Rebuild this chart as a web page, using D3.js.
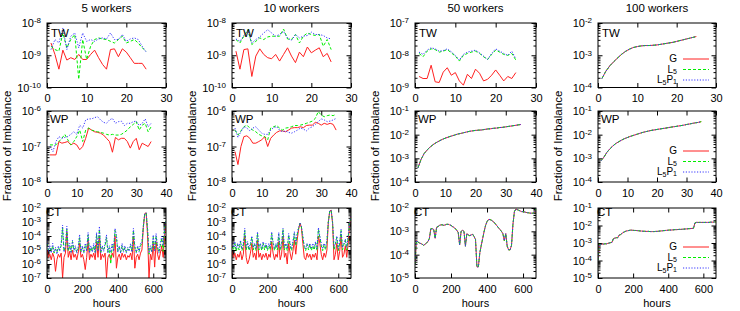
<!DOCTYPE html>
<html><head><meta charset="utf-8">
<script src="https://cdn.jsdelivr.net/npm/d3@7"></script>
<style>
body{margin:0;background:#fff;}
svg{display:block;}
</style></head><body>
<svg id="chart" width="740" height="311"></svg>
<script>
// ---------- categories / labels ----------
const workerTitles = ["5 workers","10 workers","50 workers","100 workers"];
const rowLabels = ["TW","WP","CT"];
const seriesNames = ["G","L5","L5P1"];
const twTicks = [0,10,20,30];
const wpTicks = [0,10,20,30,40];
const ctTicks = [0,200,400,600];
const twDays = d3.range(1,26);
const wpDays = d3.range(1,36);
const ctHours = d3.range(0,673,8);

// ---------- TW ----------
const tw5G    = [2.4e-9,1.06e-9,3.7e-10,1.44e-9,7.1e-10,8.4e-10,7.4e-10,1.06e-9,7.4e-10,7.4e-10,1.06e-9,1.44e-9,8.4e-10,5.2e-10,3.7e-10,1.5e-9,1.58e-9,9.0e-10,1.58e-9,1.25e-9,8.4e-10,5.6e-10,5.6e-10,5.6e-10,3.7e-10];
const tw5L5   = [1.9e-9,1.5e-9,1.34e-9,4.9e-9,1.7e-9,3.07e-9,4.4e-9,1.8e-10,3.07e-9,7.4e-10,1.9e-9,3.07e-9,3.45e-9,3.2e-9,3.07e-9,2.7e-9,2.4e-9,3.07e-9,3.9e-9,2.4e-9,2.7e-9,3.07e-9,2.4e-9,1.7e-9,1.34e-9];
const tw5L5P1 = [1.5e-9,3.07e-9,2.4e-9,7.0e-9,1.5e-9,3.9e-9,4.9e-9,1.7e-9,4.9e-9,2.7e-9,3.07e-9,2.7e-9,3.2e-9,3.45e-9,3.2e-9,4.9e-9,3.07e-9,3.07e-9,4.4e-9,2.7e-9,3.2e-9,3.45e-9,3.07e-9,1.9e-9,1.25e-9];
const tw10G    = [1.34e-9,3.7e-10,1.5e-9,1.58e-9,2.2e-10,9.4e-10,1.58e-9,1.06e-9,8.4e-10,7.8e-10,1.06e-9,6.6e-10,1.06e-9,1.7e-9,9.4e-10,5.9e-10,1.25e-9,9.0e-10,1.8e-9,1.19e-9,1.44e-9,1.7e-9,9.0e-10,1.14e-9,6.2e-10];
const tw10L5   = [3.07e-9,2.4e-9,3.9e-9,6.2e-9,2.15e-9,2.7e-9,3.45e-9,3.07e-9,3.7e-9,3.9e-9,3.9e-9,3.9e-9,6.5e-9,3.2e-9,3.07e-9,4.4e-9,2.4e-9,3.9e-9,4.9e-9,4.4e-9,4.1e-9,4.4e-9,1.9e-9,3.07e-9,1.5e-9];
const tw10L5P1 = [3.2e-9,2.7e-9,4.1e-9,5.9e-9,2.4e-9,3.07e-9,3.7e-9,4.9e-9,6.2e-9,4.9e-9,3.9e-9,4.4e-9,5.5e-9,3.45e-9,2.9e-9,4.4e-9,3.45e-9,3.9e-9,4.1e-9,5.2e-9,4.4e-9,4.4e-9,4.1e-9,3.45e-9,3.2e-9];
const tw50G    = [2.2e-9,1.9e-9,1.9e-9,4.9e-9,1.5e-9,1.43e-9,3.0e-9,4.1e-9,2.4e-9,2.9e-9,1.6e-9,1.18e-9,2.57e-9,1.9e-9,3.7e-9,2.76e-9,1.6e-9,1.8e-9,2.4e-9,3.5e-9,2.4e-9,1.6e-9,2.2e-9,1.9e-9,2.9e-9];
const tw50L5   = [1.14e-8,9.0e-9,1.34e-8,1.58e-8,1.5e-8,1.25e-8,1.34e-8,1.5e-8,1.19e-8,9.4e-9,6.6e-9,9.9e-9,1.14e-8,1.25e-8,1.34e-8,1.14e-8,9.0e-9,7.4e-9,1.06e-8,1.44e-8,1.25e-8,1.06e-8,9.9e-9,1.14e-8,7.1e-9];
const tw50L5P1 = [1.25e-8,1.06e-8,1.44e-8,1.7e-8,1.58e-8,1.34e-8,1.4e-8,1.58e-8,1.28e-8,9.9e-9,7.1e-9,1.06e-8,1.25e-8,1.34e-8,1.44e-8,1.19e-8,9.4e-9,7.4e-9,1.14e-8,1.58e-8,1.34e-8,1.14e-8,9.9e-9,1.34e-8,7.8e-9];
const tw100    = [1.9e-4,3.2e-4,4.7e-4,6.3e-4,8.3e-4,1.07e-3,1.32e-3,1.55e-3,1.74e-3,1.86e-3,1.95e-3,2.0e-3,2.0e-3,2.04e-3,2.09e-3,2.19e-3,2.29e-3,2.4e-3,2.51e-3,2.69e-3,2.88e-3,3.09e-3,3.31e-3,3.55e-3,3.8e-3];

// ---------- WP ----------
const wp5G    = [5.8e-8,5.8e-8,5.8e-8,1.38e-7,1.24e-7,1.3e-7,1.38e-7,1.11e-7,1.24e-7,1.11e-7,8.1e-8,1.0e-7,1.7e-7,3.3e-7,2.9e-7,2.6e-7,2.5e-7,2.37e-7,2.1e-7,1.7e-7,1.38e-7,6.9e-8,1.8e-7,1.54e-7,1.7e-7,1.7e-7,1.38e-7,9.0e-8,1.38e-7,1.7e-7,8.1e-8,1.24e-7,1.11e-7,1.0e-7,1.38e-7];
const wp5L5   = [1.11e-7,1.11e-7,1.11e-7,1.38e-7,1.7e-7,2.2e-7,1.54e-7,1.11e-7,1.38e-7,1.9e-7,2.9e-7,1.38e-7,2.9e-7,3.3e-7,2.9e-7,2.75e-7,2.6e-7,2.5e-7,2.37e-7,2.2e-7,2.1e-7,2.2e-7,2.1e-7,2.1e-7,2.2e-7,2.5e-7,2.9e-7,3.6e-7,4.2e-7,5.0e-7,2.9e-7,4.0e-7,4.5e-7,2.6e-7,3.6e-7];
const wp5L5P1 = [1.0e-7,7.2e-8,1.38e-7,1.9e-7,1.7e-7,1.8e-7,1.9e-7,2.2e-7,2.6e-7,2.2e-7,4.0e-7,3.3e-7,5.6e-7,6.0e-7,6.0e-7,6.5e-7,6.9e-7,5.6e-7,4.8e-7,4.5e-7,5.6e-7,6.2e-7,4.5e-7,5.0e-7,5.2e-7,3.9e-7,4.5e-7,4.5e-7,5.0e-7,5.2e-7,3.9e-7,4.5e-7,6.0e-7,3.6e-7,4.5e-7];
const wp10G    = [7.2e-8,3.1e-8,1.0e-7,1.9e-7,2.0e-7,1.7e-7,1.24e-7,1.24e-7,1.38e-7,1.54e-7,1.9e-7,1.0e-7,1.7e-7,2.1e-7,2.5e-7,2.75e-7,2.75e-7,2.6e-7,2.9e-7,3.3e-7,3.4e-7,3.4e-7,3.6e-7,3.4e-7,3.9e-7,4.0e-7,4.0e-7,4.8e-7,4.5e-7,4.0e-7,4.5e-7,4.2e-7,4.5e-7,4.2e-7,2.9e-7];
const wp10L5   = [2.9e-7,2.1e-7,2.75e-7,3.6e-7,4.0e-7,3.3e-7,2.9e-7,2.6e-7,2.2e-7,2.0e-7,1.9e-7,1.54e-7,3.3e-7,3.6e-7,3.9e-7,3.3e-7,2.9e-7,3.3e-7,3.4e-7,3.6e-7,3.9e-7,3.9e-7,4.0e-7,4.2e-7,4.5e-7,4.8e-7,5.2e-7,6.2e-7,9.6e-7,7.7e-7,6.9e-7,7.4e-7,7.7e-7,7.4e-7,8.1e-7];
const wp10L5P1 = [3.3e-7,1.8e-7,2.6e-7,3.6e-7,3.3e-7,2.75e-7,3.3e-7,3.6e-7,2.9e-7,2.37e-7,2.2e-7,2.2e-7,2.9e-7,3.4e-7,3.6e-7,2.9e-7,2.6e-7,2.75e-7,2.5e-7,2.37e-7,2.6e-7,2.9e-7,3.3e-7,3.1e-7,2.75e-7,3.3e-7,3.6e-7,4.2e-7,5.0e-7,6.0e-7,5.6e-7,5.0e-7,5.2e-7,5.6e-7,6.2e-7];
const wp50  = [4.0e-4,9.0e-4,1.58e-3,2.24e-3,3.0e-3,3.8e-3,4.6e-3,5.4e-3,6.3e-3,7.1e-3,7.9e-3,8.7e-3,9.5e-3,1.05e-2,1.12e-2,1.2e-2,1.29e-2,1.38e-2,1.45e-2,1.51e-2,1.55e-2,1.58e-2,1.66e-2,1.74e-2,1.78e-2,1.86e-2,1.9e-2,2.0e-2,2.04e-2,2.14e-2,2.24e-2,2.34e-2,2.45e-2,2.57e-2,2.69e-2];
const wp100 = [7.9e-4,1.12e-3,1.78e-3,2.5e-3,3.3e-3,4.2e-3,5.0e-3,5.9e-3,6.8e-3,7.6e-3,8.5e-3,9.3e-3,1.02e-2,1.12e-2,1.23e-2,1.32e-2,1.41e-2,1.51e-2,1.58e-2,1.66e-2,1.74e-2,1.82e-2,1.9e-2,2.0e-2,2.1e-2,2.19e-2,2.29e-2,2.4e-2,2.51e-2,2.69e-2,2.82e-2,3.0e-2,3.16e-2,3.3e-2,3.55e-2];

// ---------- CT (every 8 hours) ----------
const ct5G = [1e-5,3e-6,5e-6,2e-6,6e-6,3e-6,3e-7,2e-6,5e-6,3e-6,
 6e-6,1e-7,3e-6,6e-6,2e-4,3e-6,8e-6,2e-6,1e-5,3e-6,
 5e-6,2e-6,6e-6,3e-5,3e-6,5e-6,2e-6,4e-7,3e-6,5e-5,
 2e-6,5e-6,3e-6,6e-6,2e-6,4e-5,3e-6,1e-4,2e-6,5e-6,
 3e-6,6e-6,1e-7,3e-6,5e-6,2e-6,6e-6,3e-6,1e-4,5e-7,
 3e-6,5e-6,2e-6,6e-6,3e-6,5e-6,2e-6,4e-6,3e-6,6e-6,
 2e-6,1e-4,5e-7,3e-6,5e-6,2e-6,6e-6,1e-5,4e-4,4e-3,
 4.5e-3,1e-4,1e-7,5e-6,2e-6,3e-5,6e-7,4e-5,5e-6,2e-6,
 6e-6,2e-5,3e-6,1e-4,1e-3];
const ct5L5 = [3e-5,1e-5,1.5e-5,8e-6,2e-5,6e-6,1.2e-5,7e-6,1.5e-5,1e-5,
 2e-5,4e-4,8e-6,1.5e-5,3e-4,8e-6,2e-5,7e-6,4e-5,1e-5,
 1.5e-5,7e-6,1.2e-5,8e-5,8e-6,1.5e-5,7e-6,2e-5,1e-5,1.2e-4,
 7e-6,1.5e-5,8e-6,2e-5,7e-6,1.2e-4,1e-5,3e-4,7e-6,1.5e-5,
 1e-5,2e-5,8e-5,7e-6,1.5e-5,1e-6,2e-5,1e-5,2.5e-4,8e-5,
 8e-6,1.5e-5,7e-6,2e-5,8e-6,1.5e-5,7e-6,1.2e-5,1e-5,2e-5,
 8e-6,2.5e-4,1.5e-5,7e-6,1.5e-5,8e-6,2e-5,3e-5,5e-4,4e-3,
 4.5e-3,3e-4,5e-6,1.5e-5,8e-6,8e-5,1e-5,1e-4,1.5e-5,7e-6,
 2e-5,7e-5,8e-6,2.5e-4,1.2e-3];
const ct5L5P1 = [5e-5,8e-6,2e-5,6e-6,3e-5,7e-6,1.5e-5,5e-6,2e-5,8e-6,
 3e-5,6e-4,7e-6,2e-5,5e-4,1e-5,3e-5,6e-6,5e-5,8e-6,
 2e-5,6e-6,1.5e-5,1.3e-4,7e-6,2e-5,6e-6,3e-5,8e-6,1.8e-4,
 6e-6,2e-5,7e-6,3e-5,6e-6,1.8e-4,8e-6,5e-4,6e-6,2e-5,
 8e-6,3e-5,1.2e-4,6e-6,2e-5,7e-6,3e-5,8e-6,3.5e-4,1.2e-4,
 7e-6,2e-5,6e-6,3e-5,7e-6,2e-5,6e-6,1.5e-5,8e-6,3e-5,
 7e-6,3.5e-4,2e-5,6e-6,2e-5,7e-6,3e-5,3e-5,5e-4,4e-3,
 4.5e-3,3e-4,6e-6,2e-5,7e-6,1.2e-4,8e-6,1.5e-4,2e-5,6e-6,
 3e-5,1e-4,2e-5,3e-4,1.3e-3];
const ct10G = [8e-6,3e-6,6e-6,2e-6,5e-6,3e-6,8e-6,2e-6,5e-6,1e-4,
 3e-6,1e-6,2e-6,6e-6,3e-5,3e-6,6e-6,2e-6,5e-5,3e-6,
 6e-6,2e-6,5e-6,3e-6,6e-6,2e-6,5e-6,3e-6,4e-5,6e-6,
 2e-6,5e-6,3e-6,4e-5,2e-6,5e-6,1e-4,3e-6,6e-6,1e-6,
 3e-5,6e-6,2e-6,8e-6,5e-5,5e-6,5e-5,3e-4,8e-4,4e-4,
 3e-5,3e-6,2e-6,6e-6,3e-6,5e-6,2e-6,5e-6,3e-6,6e-6,
 2e-6,1e-4,3e-5,5e-6,2e-6,6e-6,3e-6,1e-5,1e-3,6e-3,
 7e-3,8e-4,2e-6,5e-6,3e-5,2e-6,8e-6,1e-4,3e-6,5e-6,
 2e-5,3e-6,3e-5,6e-4,3e-3];
const ct10L5 = [2e-5,1e-5,3e-5,8e-6,2.5e-5,1e-5,4e-5,9e-6,2e-5,2.5e-4,
 1e-5,3e-5,9e-6,2e-5,8e-5,1e-5,2.5e-5,9e-6,1.5e-4,1e-5,
 2.5e-5,9e-6,3e-5,1e-5,2.5e-5,9e-6,2e-5,1e-5,1.5e-4,3e-5,
 9e-6,2.5e-5,1e-5,1.4e-4,9e-6,2e-5,3e-4,1e-5,2.5e-5,9e-6,
 1.2e-4,2e-5,9e-6,3e-5,1.5e-4,2e-5,1.2e-4,3.5e-4,8e-4,4.5e-4,
 8e-5,1.5e-5,9e-6,2.5e-5,1e-5,2.5e-5,9e-6,2e-5,1e-5,3e-5,
 9e-6,3e-4,8e-5,2e-5,9e-6,2.5e-5,1e-5,4e-5,1e-3,6e-3,
 7e-3,9e-4,1e-5,2.5e-5,8e-5,9e-6,3e-5,2.5e-4,1e-5,2.5e-5,
 5e-5,1e-5,8e-5,7e-4,3e-3];
const ct10L5P1 = [3e-5,1.5e-5,4e-5,1.2e-5,3e-5,1.5e-5,5e-5,1.2e-5,3e-5,3.5e-4,
 1.5e-5,4e-5,1.2e-5,3e-5,1e-4,1.5e-5,3e-5,1.2e-5,2e-4,1.5e-5,
 3e-5,1.2e-5,4e-5,1.5e-5,3e-5,1.2e-5,3e-5,1.5e-5,2e-4,4e-5,
 1.2e-5,3e-5,1.5e-5,1.8e-4,1.2e-5,3e-5,3.5e-4,1.5e-5,3e-5,1.2e-5,
 1.5e-4,3e-5,1.2e-5,4e-5,2e-4,3e-5,1.5e-4,4e-4,9e-4,5e-4,
 1e-4,2e-5,1.2e-5,3e-5,1.5e-5,3e-5,1.2e-5,3e-5,1.5e-5,4e-5,
 1.2e-5,4e-4,1e-4,3e-5,1.2e-5,3e-5,1.5e-5,5e-5,1e-3,6e-3,
 7e-3,1e-3,1.5e-5,3e-5,1e-4,1.2e-5,4e-5,3e-4,1.5e-5,3e-5,
 6e-5,1.5e-5,1e-4,8e-4,3e-3];
const ct50 = [3.8e-5,4e-4,3.5e-4,3.2e-4,3e-4,2.8e-4,2.5e-4,2.8e-4,3.2e-4,3.6e-4,
 5e-4,1.3e-3,1.3e-3,1.2e-3,5e-4,1.5e-3,1.6e-3,1.8e-3,1.9e-3,1.9e-3,
 1.8e-3,1.9e-3,2e-3,2e-3,1.9e-3,1.8e-3,1.6e-3,1.5e-3,1.3e-3,1.1e-3,
 9e-4,2.6e-4,1e-3,1.1e-3,1e-3,2.3e-4,8e-4,7e-4,6.5e-4,7e-4,
 7.5e-4,6e-4,4.5e-4,3e-5,3e-5,1.2e-4,2.5e-4,5e-4,1e-3,1.8e-3,
 2.6e-3,3.2e-3,3.2e-3,3e-3,2.7e-3,2.4e-3,2e-3,1.7e-3,1.4e-3,1.2e-3,
 1e-3,8e-4,4e-4,8e-4,2.3e-4,1.6e-4,1.6e-4,2.5e-4,2e-3,7e-3,
 9e-3,8.5e-3,8e-3,7.5e-3,7e-3,7e-3,6.8e-3,6.5e-3,6.3e-3,6.2e-3,
 6e-3,6e-3,6e-3,6.3e-3,1e-2];
const ct100 = [1e-4,8e-4,8.3e-4,8.5e-4,8.7e-4,9e-4,9e-4,9.5e-4,1e-3,1.05e-3,
 1.1e-3,1.8e-3,1.9e-3,2e-3,2e-3,2.8e-3,3e-3,3.5e-3,4e-3,4.4e-3,
 4.8e-3,5e-3,5.2e-3,5.4e-3,5.4e-3,5.3e-3,5.2e-3,5.2e-3,5.1e-3,5e-3,
 4.9e-3,4.8e-3,4.7e-3,4.7e-3,4.6e-3,4.6e-3,4.6e-3,4.5e-3,4.5e-3,4.5e-3,
 4.5e-3,4.6e-3,4.6e-3,4.7e-3,4.8e-3,4.9e-3,5e-3,5.1e-3,5.2e-3,5.3e-3,
 5.4e-3,5.5e-3,5.5e-3,5.6e-3,5.7e-3,5.8e-3,5.8e-3,5.9e-3,6e-3,6e-3,
 6.1e-3,6.2e-3,6.3e-3,6.4e-3,6.5e-3,6.6e-3,6.7e-3,6.8e-3,7e-3,1.4e-2,
 1.5e-2,1.5e-2,1.5e-2,1.5e-2,1.5e-2,1.5e-2,1.5e-2,1.5e-2,1.5e-2,1.5e-2,
 1.55e-2,1.55e-2,1.55e-2,1.6e-2,1.6e-2];

// ---------- assembling ----------
const rows = [
  { label:"TW", xs:twDays, xDomain:[0,30], xTicks:twTicks,
    yDomains:[[1e-10,1e-8],[1e-10,1e-8],[1e-9,1e-7],[1e-4,1e-2]],
    data:[[tw5G,tw5L5,tw5L5P1],[tw10G,tw10L5,tw10L5P1],[tw50G,tw50L5,tw50L5P1],[tw100,tw100,tw100]] },
  { label:"WP", xs:wpDays, xDomain:[0,40], xTicks:wpTicks,
    yDomains:[[1e-8,1e-6],[1e-8,1e-6],[1e-4,1e-1],[1e-4,1e-1]],
    data:[[wp5G,wp5L5,wp5L5P1],[wp10G,wp10L5,wp10L5P1],[wp50,wp50,wp50],[wp100,wp100,wp100]] },
  { label:"CT", xs:ctHours, xDomain:[0,672], xTicks:ctTicks,
    yDomains:[[1e-7,1e-2],[1e-7,1e-2],[1e-5,1e-2],[1e-5,1e-1]],
    data:[[ct5G,ct5L5,ct5L5P1],[ct10G,ct10L5,ct10L5P1],[ct50,ct50,ct50],[ct100,ct100,ct100]] }
];

// ---------- layout & style ----------
const FONT = '"Liberation Sans", Arial, Helvetica, sans-serif';
const colLefts = [47,232,415,598];
const plotWs = [119,119,121,118];
const rowTops = [23,111,208];
const rowHs = [64.5,71,70];
const colors = ["#ff2020","#00ee00","#3333ff"];
const dashes = [null,"3,2","1.2,1.6"];

const svg = d3.select("#chart").attr("font-family", FONT);

function supLabel(sel, d){
  const e = Math.round(Math.log10(d));
  sel.text(null);
  sel.append("tspan").text("10");
  sel.append("tspan").attr("dy","-0.45em").attr("font-size","8px").text(String(e));
}

workerTitles.forEach((title, ci) => {
  svg.append("text").attr("x", colLefts[ci] + plotWs[ci]/2).attr("y", 12)
    .attr("text-anchor","middle").attr("font-size","11.5px").text(title);
  svg.append("text")
    .attr("transform", `translate(${colLefts[ci]-36},${146}) rotate(-90)`)
    .attr("text-anchor","middle").attr("font-size","11.5px").text("Fraction of Imbalance");
  svg.append("text").attr("x", colLefts[ci] + plotWs[ci]/2).attr("y", 307)
    .attr("text-anchor","middle").attr("font-size","11px").text("hours");

  rows.forEach((r, ri) => {
    const w = plotWs[ci], h = rowHs[ri];
    const g = svg.append("g").attr("transform", `translate(${colLefts[ci]},${rowTops[ri]})`);
    const x = d3.scaleLinear().domain(r.xDomain).range([0,w]);
    const y = d3.scaleLog().domain(r.yDomains[ci]).range([h,0]);
    const lo = Math.round(Math.log10(r.yDomains[ci][0])), hi = Math.round(Math.log10(r.yDomains[ci][1]));
    const decades = d3.range(lo, hi+1).map(e => Math.pow(10,e));
    const minors = [];
    d3.range(lo, hi).forEach(e => { for (let k=2;k<=9;k++) minors.push(k*Math.pow(10,e)); });

    const clipId = `clip-${ci}-${ri}`;
    g.append("clipPath").attr("id", clipId).append("rect").attr("width", w).attr("height", h);

    // minor ticks
    [d3.axisLeft(y), d3.axisRight(y)].forEach((ax, k) => {
      const gm = g.append("g").attr("transform", k ? `translate(${w},0)` : null)
        .call(ax.tickValues(minors).tickSizeInner(-2.5).tickSizeOuter(0).tickFormat(""));
      gm.select(".domain").remove();
    });
    // major y ticks
    const gy = g.append("g").call(d3.axisLeft(y).tickValues(decades).tickSizeInner(-4.5).tickSizeOuter(0).tickPadding(6).tickFormat(d=>d));
    gy.attr("font-family", FONT).attr("font-size", 11);
    gy.select(".domain").remove();
    gy.selectAll(".tick text").each(function(d){ supLabel(d3.select(this), d); });
    const gyr = g.append("g").attr("transform", `translate(${w},0)`)
      .call(d3.axisRight(y).tickValues(decades).tickSizeInner(-4.5).tickSizeOuter(0).tickFormat(""));
    gyr.select(".domain").remove();
    // x ticks
    const gx = g.append("g").attr("transform", `translate(0,${h})`)
      .call(d3.axisBottom(x).tickValues(r.xTicks).tickSizeInner(-4.5).tickSizeOuter(0).tickPadding(7));
    gx.attr("font-family", FONT).attr("font-size", 11);
    gx.select(".domain").remove();
    const gxt = g.append("g")
      .call(d3.axisTop(x).tickValues(r.xTicks).tickSizeInner(-4.5).tickSizeOuter(0).tickFormat(""));
    gxt.select(".domain").remove();

    // series lines
    const plot = g.append("g").attr("clip-path", `url(#${clipId})`);
    r.data[ci].forEach((vals, si) => {
      const line = d3.line().x((d,i) => x(r.xs[i])).y(d => y(d));
      plot.append("path").datum(vals).attr("d", line)
        .attr("fill","none").attr("stroke", colors[si]).attr("stroke-width", 1)
        .attr("stroke-dasharray", dashes[si]);
    });

    // frame
    g.append("rect").attr("width", w).attr("height", h)
      .attr("fill","none").attr("stroke","#000").attr("stroke-width",1);

    // panel label
    const lblPos = [[4,14],[3,12],[-1,8]][ri];
    g.append("text").attr("x", lblPos[0]).attr("y", lblPos[1]).attr("font-size","11.5px").text(r.label);

    // legend (100 workers column)
    if (ci === 3) {
      const ly = [[36,46.5,57],[40,50.5,61],[39,49.5,60]][ri];
      seriesNames.forEach((nm, si) => {
        const t = g.append("text").attr("x", 79).attr("y", ly[si]).attr("dy","0.32em")
          .attr("text-anchor","end").attr("font-size","10px");
        if (nm === "G") t.text("G");
        else {
          t.append("tspan").text("L");
          t.append("tspan").attr("dy","0.2em").attr("font-size","7px").text("5");
          if (nm === "L5P1") {
            t.append("tspan").attr("dy","-0.2em").text("P");
            t.append("tspan").attr("dy","0.2em").attr("font-size","7px").text("1");
          }
        }
        g.append("line").attr("x1", 85).attr("x2", 111).attr("y1", ly[si]).attr("y2", ly[si])
          .attr("stroke", colors[si]).attr("stroke-width",1).attr("stroke-dasharray", dashes[si]);
      });
    }
  });
});
</script>
</body></html>
